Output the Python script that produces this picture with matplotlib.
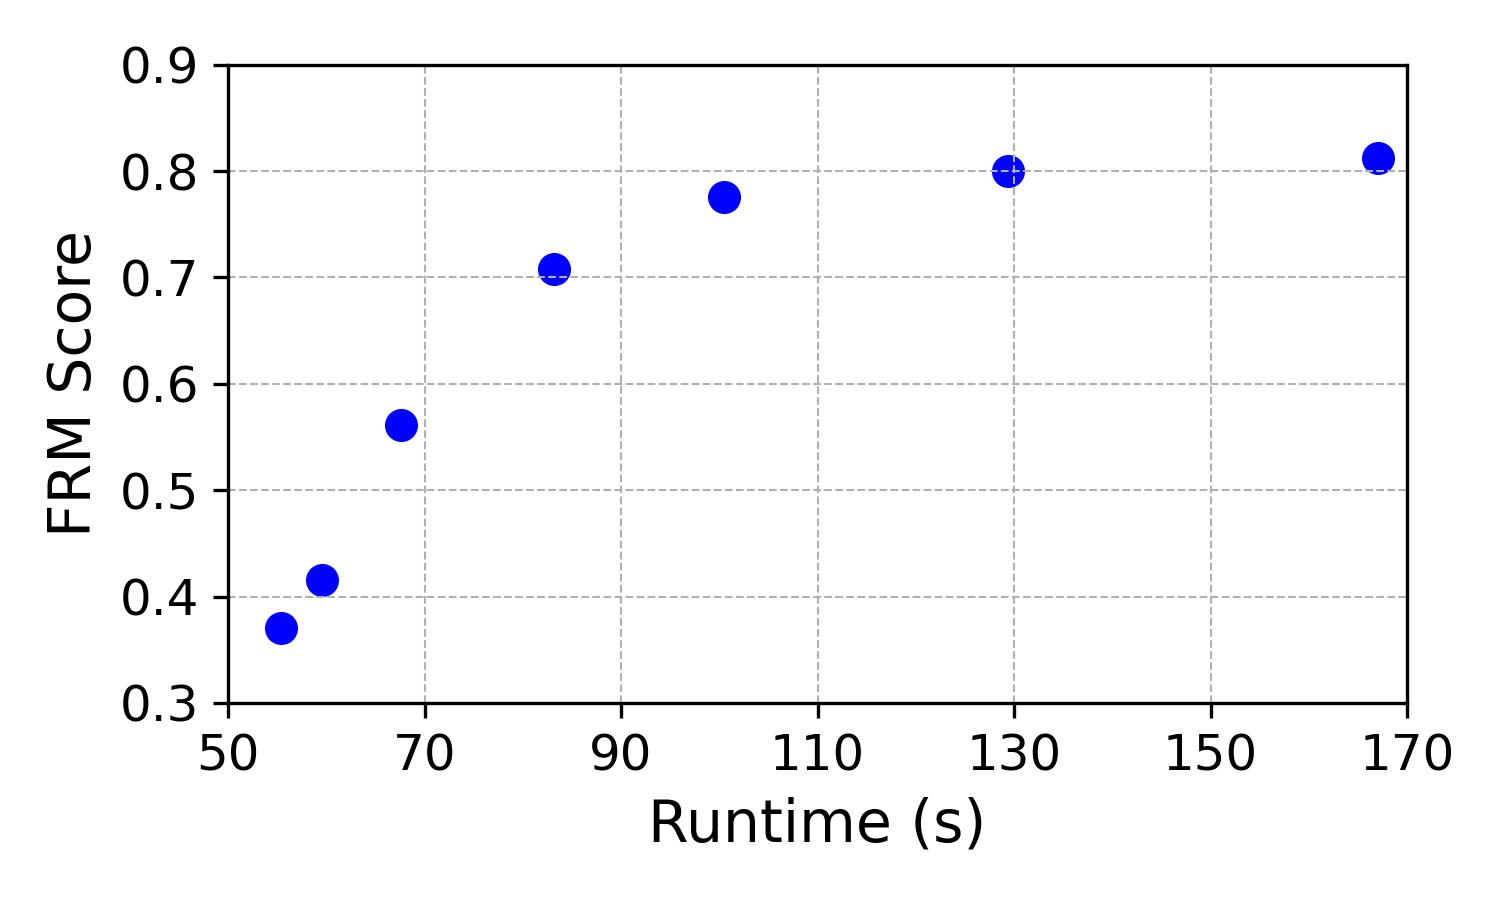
import matplotlib
matplotlib.use("Agg")
import matplotlib.pyplot as plt

# Data
runtime = [55.4, 59.6, 67.6, 83.2, 100.5, 129.4, 167.0]
frm_score = [0.370, 0.416, 0.561, 0.708, 0.776, 0.800, 0.812]

x_ticks = [50, 70, 90, 110, 130, 150, 170]
y_ticks = [0.3, 0.4, 0.5, 0.6, 0.7, 0.8, 0.9]

fig, ax = plt.subplots(figsize=(5, 3), dpi=300)
fig.subplots_adjust(left=0.152, right=0.938, top=0.928, bottom=0.219)

# default zorder so the grid lines sit on top of the markers
ax.scatter(runtime, frm_score, color='blue', s=48)

ax.set_xlim(50, 170)
ax.set_ylim(0.3, 0.9)
ax.set_xticks(x_ticks)
ax.set_yticks(y_ticks)
ax.tick_params(labelsize=12)
ax.set_xlabel('Runtime (s)', fontsize=14)
ax.set_ylabel('FRM Score', fontsize=14)
ax.grid(True, linestyle='--', linewidth=0.5, color='#b0b0b0')

fig.savefig('out.png', dpi=300)
